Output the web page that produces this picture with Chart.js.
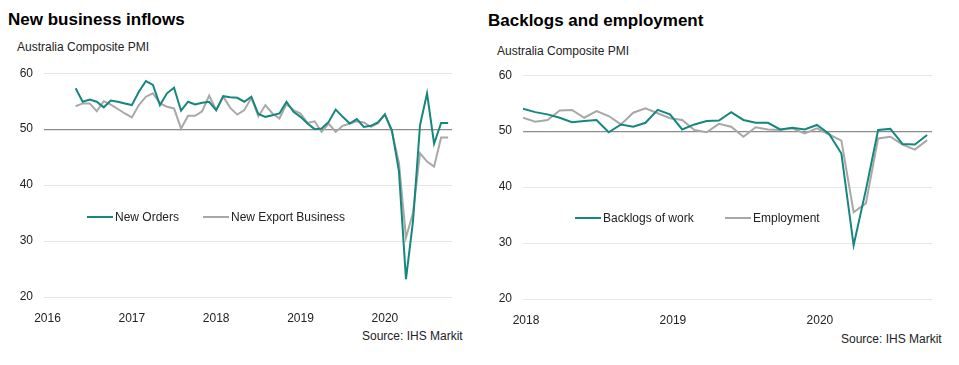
<!DOCTYPE html>
<html>
<head>
<meta charset="utf-8">
<script src="https://cdn.jsdelivr.net/npm/chart.js@4.4.0/dist/chart.umd.min.js"></script>
<style>
  body { margin: 0; width: 959px; height: 365px; background: #fff; position: relative; overflow: hidden;
         font-family: Arial, "Liberation Sans", sans-serif; color: #000; }
  .title { position: absolute; font-weight: bold; font-size: 17px; line-height: 17px; white-space: nowrap; }
  .sub { position: absolute; font-size: 12px; line-height: 12px; color: #222; white-space: nowrap; }
  .src { position: absolute; font-size: 12px; line-height: 12px; color: #222; white-space: nowrap; }
  canvas { position: absolute; }
  .lg { position: absolute; font-size: 12px; line-height: 12px; color: #222; white-space: nowrap; display: flex; align-items: center; }
  .lg .key { display: inline-block; width: 26px; height: 2px; margin-right: 2px; }
</style>
</head>
<body>
<div class="title" style="left:8px;top:11px">New business inflows</div>
<div class="sub" style="left:17px;top:41px">Australia Composite PMI</div>
<div class="src" style="left:362px;top:330px">Source: IHS Markit</div>
<canvas id="left" width="470" height="272" style="left:0;top:55px"></canvas>

<div class="title" style="left:488px;top:12px">Backlogs and employment</div>
<div class="sub" style="left:497px;top:45px">Australia Composite PMI</div>
<div class="src" style="left:841px;top:333px">Source: IHS Markit</div>
<canvas id="right" width="470" height="272" style="left:480px;top:57px"></canvas>

<script>
// New business inflows, monthly from May 2016
const inflowStart = '2016-05';
const newOrders = [
  57.3, 54.9, 55.3, 54.9, 53.9, 55.1, 54.9, 54.6,
  54.3, 56.7, 58.6, 57.9, 54.3, 56.4, 57.4, 53.3, 54.9, 54.4, 54.7, 54.9,
  53.4, 55.9, 55.7, 55.6, 54.9, 55.8, 52.7, 52.2, 52.5, 52.8, 54.9, 53.1,
  52.2, 51.0, 50.0, 50.1, 51.3, 53.5, 52.2, 51.0, 51.8, 50.4, 50.6, 51.2,
  52.6, 49.8, 42.5, 23.2, 33.5, 50.7, 56.4, 47.4, 51.1, 51.1
];
const newExportBusiness = [
  54.1, 54.6, 54.6, 53.2, 55.0, 54.4, 53.6, 52.8,
  52.1, 54.3, 55.8, 56.4, 54.6, 54.0, 53.7, 50.1, 52.4, 52.4, 53.2, 56.0,
  53.4, 55.8, 53.8, 52.6, 53.4, 55.6, 52.3, 54.3, 52.8, 51.9, 54.5, 53.4,
  52.8, 51.1, 51.4, 49.5, 51.0, 49.5, 50.6, 51.0, 51.4, 51.2, 50.4, 51.0,
  52.7, 49.5, 44.0, 30.6, 35.0, 45.7, 44.2, 43.3, 48.5, 48.5
];

// Backlogs and employment, monthly from Jan 2018
const backlogStart = '2018-01';
const backlogsOfWork = [
  54.0, 53.4, 53.0, 52.4, 51.6, 51.8, 52.0, 49.8, 51.2, 50.8, 51.5, 53.8,
  53.0, 50.3, 51.2, 51.8, 51.9, 53.4, 52.0, 51.5, 51.5, 50.3, 50.6, 50.3,
  51.1, 49.5, 46.0, 29.6, 39.5, 50.2, 50.4, 47.7, 47.6, 49.3
];
const employment = [
  52.4, 51.7, 52.0, 53.7, 53.8, 52.4, 53.6, 52.7, 51.2, 53.3, 54.1, 53.2,
  52.3, 52.0, 50.2, 49.8, 51.3, 50.8, 49.0, 50.7, 50.3, 50.2, 50.5, 49.6,
  50.5, 49.4, 48.3, 35.5, 37.1, 48.7, 49.0, 47.6, 46.7, 48.4
];

const yTicks = [20, 30, 40, 50, 60];
const leftYears = [2016, 2017, 2018, 2019, 2020];
const rightYears = [2018, 2019, 2020];

const teal = '#15877e';
const grey = '#a8a8a8';
const fontSpec = { family: 'Arial, "Liberation Sans", sans-serif', size: 12 };

// month offset of 'YYYY-MM' from January of baseYear
function monthIndex(ym, baseYear) {
  const [y, m] = ym.split('-').map(Number);
  return (y - baseYear) * 12 + (m - 1);
}

function toPoints(values, start, baseYear) {
  const first = monthIndex(start, baseYear);
  return values.map((v, i) => ({ x: first + i, y: v }));
}

function buildLegend(items) {
  items.forEach(it => {
    const div = document.createElement('div');
    div.className = 'lg';
    div.style.left = it.left + 'px';
    div.style.top = it.top + 'px';
    const key = document.createElement('span');
    key.className = 'key';
    key.style.background = it.color;
    div.appendChild(key);
    div.appendChild(document.createTextNode(it.label));
    document.body.appendChild(div);
  });
}

function drawPanel(id, datasets, years, xMin, xMax, labelOffset) {
  const baseYear = years[0];
  const ctx = document.getElementById(id).getContext('2d');
  return new Chart(ctx, {
    type: 'line',
    data: { datasets: datasets },
    options: {
      responsive: false,
      animation: false,
      events: [],
      layout: { padding: { top: 2, right: 18, left: 0, bottom: 0 } },
      elements: { point: { radius: 0 }, line: { tension: 0, borderWidth: 2 } },
      scales: {
        x: {
          type: 'linear',
          min: xMin,
          max: xMax,
          afterFit: s => { s.height = 30; },
          afterBuildTicks: s => { s.ticks = years.map(y => ({ value: (y - baseYear) * 12 })); },
          ticks: {
            color: '#222',
            font: fontSpec,
            padding: 6,
            maxRotation: 0,
            labelOffset: labelOffset,
            callback: v => String(baseYear + Math.round(v / 12))
          },
          grid: { display: false },
          border: { display: false }
        },
        y: {
          min: 20,
          max: 60,
          afterFit: s => { s.width = id === 'left' ? 44 : 43; },
          afterBuildTicks: s => { s.ticks = yTicks.map(v => ({ value: v })); },
          ticks: { color: '#222', font: fontSpec, padding: 11 },
          grid: {
            drawTicks: false,
            color: c => c.tick.value === 50 ? '#8c8c8c' : '#e6e6e6',
            lineWidth: c => c.tick.value === 50 ? 1.2 : 1
          },
          border: { display: false }
        }
      },
      plugins: { legend: { display: false }, tooltip: { enabled: false } }
    }
  });
}

drawPanel('left', [
  { label: 'New Orders', data: toPoints(newOrders, inflowStart, 2016), borderColor: teal, backgroundColor: teal },
  { label: 'New Export Business', data: toPoints(newExportBusiness, inflowStart, 2016), borderColor: grey, backgroundColor: grey }
], leftYears, -0.5, 57.55, 0);

drawPanel('right', [
  { label: 'Backlogs of work', data: toPoints(backlogsOfWork, backlogStart, 2018), borderColor: teal, backgroundColor: teal },
  { label: 'Employment', data: toPoints(employment, backlogStart, 2018), borderColor: grey, backgroundColor: grey }
], rightYears, 0, 33.4, 3);

buildLegend([
  { label: 'New Orders', color: teal, left: 87, top: 211 },
  { label: 'New Export Business', color: grey, left: 203, top: 211 },
  { label: 'Backlogs of work', color: teal, left: 575, top: 212 },
  { label: 'Employment', color: grey, left: 725, top: 212 }
]);
</script>
</body>
</html>
